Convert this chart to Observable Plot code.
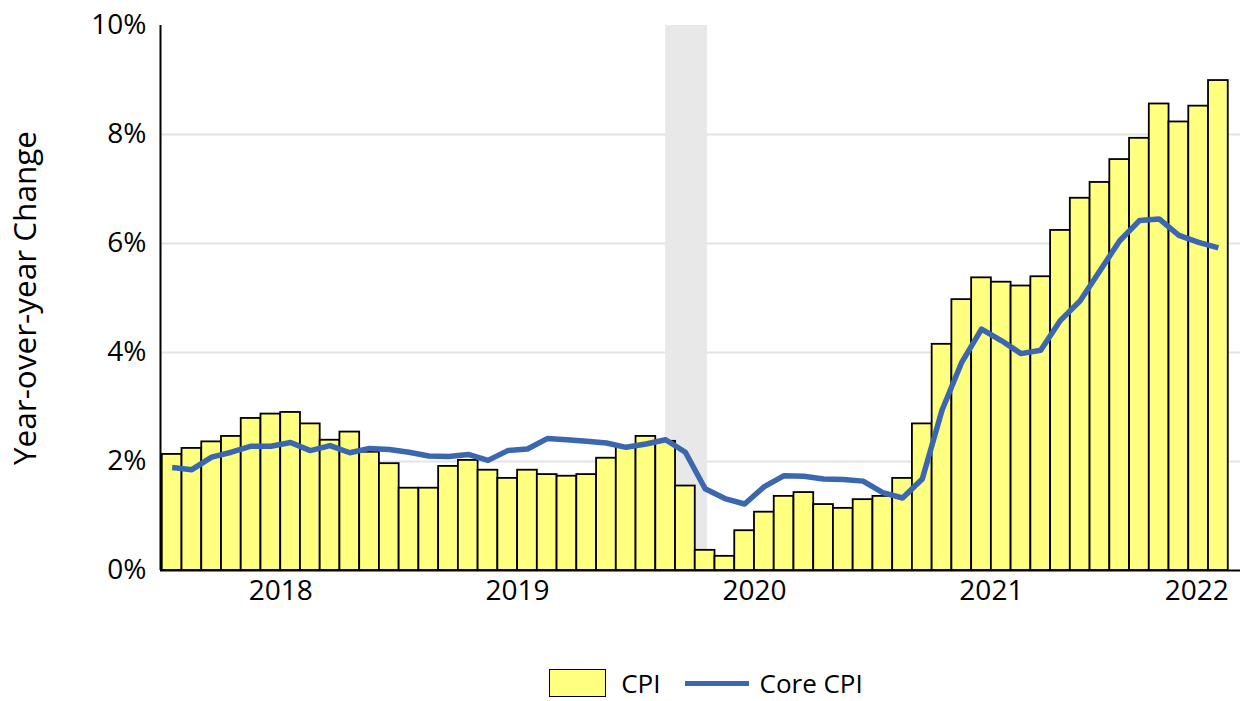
<!DOCTYPE html>
<html>
<head>
<meta charset="utf-8">
<script src="https://cdn.jsdelivr.net/npm/d3@7"></script>
<script src="https://cdn.jsdelivr.net/npm/@observablehq/plot@0.6"></script>
<style>
  html, body { margin: 0; padding: 0; background: #fff; }
  body { width: 1243px; height: 701px; overflow: hidden; font-family: "Open Sans", sans-serif; }
  #legend { display: flex; align-items: center; justify-content: center; margin-left: 166px; width: 1080px; height: 36px; font-size: 26px; color: #000; }
  .sw { width: 55px; height: 26px; background: #FFFF80; border: 1.5px solid #000; margin-right: 15px; }
  .ln { width: 64px; height: 5px; background: #3A67AF; margin-left: 24px; margin-right: 11px; }
</style>
</head>
<body>
<div id="chart"></div>
<div id="legend"><div class="sw"></div><span>CPI</span><div class="ln"></div><span>Core CPI</span></div>
<script>
// Monthly series, Jan 2018 – Jun 2022 (year-over-year % change)
const startMonth = "2018-01";
const cpi = [2.13,2.24,2.36,2.46,2.79,2.87,2.90,2.69,2.39,2.54,2.17,1.96,
             1.51,1.51,1.91,2.02,1.84,1.69,1.84,1.76,1.73,1.76,2.06,2.26,
             2.46,2.37,1.55,0.37,0.26,0.73,1.07,1.36,1.43,1.21,1.14,1.30,
             1.36,1.69,2.69,4.15,4.97,5.37,5.29,5.22,5.39,6.24,6.83,7.12,
             7.54,7.93,8.56,8.23,8.52,8.99];
const coreCpi = [1.89,1.85,2.08,2.17,2.28,2.28,2.35,2.20,2.29,2.16,2.24,2.22,
                 2.17,2.10,2.09,2.13,2.02,2.20,2.23,2.42,2.40,2.37,2.34,2.26,
                 2.32,2.40,2.17,1.50,1.32,1.22,1.54,1.74,1.73,1.68,1.67,1.64,
                 1.43,1.33,1.68,2.94,3.82,4.43,4.22,3.98,4.04,4.59,4.95,5.50,
                 6.05,6.42,6.45,6.15,6.02,5.92];
const yearLabels = ["2018","2019","2020","2021","2022"];
const yTicks = [0, 2, 4, 6, 8, 10];
const gridTicks = [2, 4, 6, 8];
const recessionMonths = ["2020-02", "2020-04"];
const yLabel = "Year-over-year Change";

const start = d3.utcParse("%Y-%m")(startMonth);
const months = d3.utcMonth.range(start, d3.utcMonth.offset(start, cpi.length));
const fmt = d3.utcFormat("%Y-%m");
const monthKeys = months.map(fmt);
const data = months.map((m, i) => ({i, cpi: cpi[i], core: coreCpi[i]}));
const recIdx = recessionMonths.map(k => monthKeys.indexOf(k));
const recession = [{x1: recIdx[0] + 0.5, x2: recIdx[1] + 0.62}];
const n = cpi.length;
const yearTicks = yearLabels.map((y, k) => ({label: y, x: Math.min(12 * k + 6, n - 1.6)}));
const xDomain = [-0.09, n + 0.62];

const chart = Plot.plot({
  width: 1243,
  height: 665,
  marginLeft: 160,
  marginRight: 3,
  marginTop: 25,
  marginBottom: 95,
  style: {fontFamily: "'Open Sans', sans-serif", fontSize: "28px", color: "#000", background: "#fff"},
  x: {type: "linear", domain: xDomain, axis: null},
  y: {domain: [0, 10], axis: null},
  marks: [
    Plot.ruleY(gridTicks, {stroke: "#e3e3e3", strokeWidth: 2}),
    Plot.rect(recession, {x1: "x1", x2: "x2", y1: 0, y2: 10, fill: "#e8e8e8"}),
    Plot.rectY(data, {x1: d => d.i, x2: d => d.i + 1, y1: 0, y2: "cpi", fill: "#FFFF80", stroke: "#000", strokeWidth: 1.8}),
    Plot.line(data, {x: d => d.i + 0.5, y: "core", stroke: "#3A67AF", strokeWidth: 5.5, strokeLinejoin: "round", strokeLinecap: "butt"}),
    Plot.ruleY([0], {stroke: "#000", strokeWidth: 2}),
    Plot.ruleX([xDomain[0]], {y1: 0, y2: 10, stroke: "#000", strokeWidth: 2}),
    Plot.text(yTicks, {y: d => d, frameAnchor: "left", text: d => d + "%", textAnchor: "end", dx: -14, fontSize: 28, fill: "#000"}),
    Plot.text(yearTicks, {x: "x", frameAnchor: "bottom", text: "label", dy: 29, fontSize: 28, fill: "#000"}),
    Plot.text([yLabel], {frameAnchor: "left", text: d => d, rotate: -90, textAnchor: "middle", lineAnchor: "middle", dx: -135, fontSize: 31.5, fill: "#000"})
  ]
});
document.getElementById("chart").appendChild(chart);
</script>
</body>
</html>
